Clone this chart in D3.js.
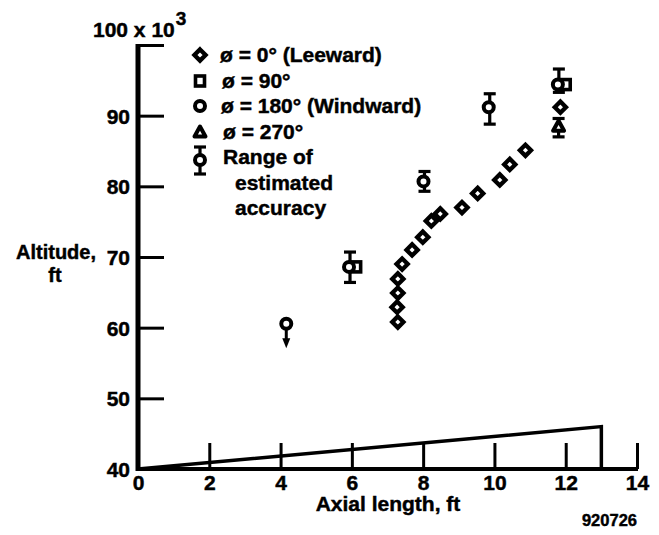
<!DOCTYPE html>
<html>
<head>
<meta charset="utf-8">
<script src="https://cdn.jsdelivr.net/npm/d3@7"></script>
<style>
  html, body { margin: 0; padding: 0; background: #fff; }
  svg text { font-family: "Liberation Sans", Arial, Helvetica, sans-serif; font-weight: bold; fill: #000; stroke: #000; stroke-width: 0.45px; }
</style>
</head>
<body>
<svg id="chart" width="659" height="535"></svg>
<script>
// Axis ticks (the 100 level is labelled by the "100 x 10^3" title)
const xTicks = [0, 2, 4, 6, 8, 10, 12, 14];
const yTicks = [40, 50, 60, 70, 80, 90, 100];
const yTickLabels = [40, 50, 60, 70, 80, 90];

// Leeward (phi = 0 deg) transition points: axial length (ft), altitude (thousands of ft)
const leewardX = [7.29, 7.27, 7.29, 7.29, 7.41, 7.69, 7.99, 8.23, 8.48, 9.09, 9.53, 10.15, 10.43, 10.87, 11.85];
const leewardY = [60.8, 62.9, 64.9, 66.9, 69.0, 71.0, 72.8, 75.1, 76.1, 77.0, 79.0, 80.9, 83.1, 85.1, 91.2];

// phi = 90 deg
const side90X = [6.12, 12.0];
const side90Y = [68.6, 94.4];

// Windward (phi = 180 deg) with estimated accuracy range
const windwardX = [4.16, 5.92, 8.01, 9.84, 11.78];
const windwardY = [60.55, 68.6, 80.7, 91.2, 94.4];
const windwardLo = [null, 66.4, 79.3, 88.8, 93.3];
const windwardHi = [null, 70.7, 82.1, 93.1, 96.6];
// first windward point is an upper bound (arrow down to this altitude)
const windwardArrowTo = 57.1;

// phi = 270 deg
const side270X = [11.8];
const side270Y = [88.5];
const side270Lo = [87.0];
const side270Hi = [89.6];

// Cone body profile drawn along the axial axis
const coneX = [0, 13, 13];
const coneY = [40, 46.0, 40];

const svg = d3.select("#chart");
const x = d3.scaleLinear().domain([0, 14]).range([138, 637]);
const y = d3.scaleLinear().domain([40, 100]).range([469, 45]);

// ---- axes ----
// y tick marks point into the plot
const yTickG = svg.append("g").attr("transform", `translate(${x(0)},0)`)
  .call(d3.axisRight(y).tickValues(yTicks.filter(v => v > 40)).tickSize(26).tickFormat(""));
yTickG.select(".domain").remove();
yTickG.selectAll("line").attr("stroke", "#000").attr("stroke-width", 3);

const yLabG = svg.append("g").attr("transform", `translate(${x(0) - 8},0)`)
  .call(d3.axisLeft(y).tickValues(yTickLabels).tickSize(0).tickPadding(0));
yLabG.select(".domain").remove();
yLabG.selectAll("text").attr("font-size", 21).attr("font-family", null).attr("dy", "0.36em");

// x tick marks point upward
const xTickG = svg.append("g").attr("transform", `translate(0,${y(40)})`)
  .call(d3.axisTop(x).tickValues(xTicks.filter(v => v > 0)).tickSize(26).tickFormat(""));
xTickG.select(".domain").remove();
xTickG.selectAll("line").attr("stroke", "#000").attr("stroke-width", 3);

const xLabG = svg.append("g").attr("transform", `translate(0,${y(40)})`)
  .call(d3.axisBottom(x).tickValues(xTicks).tickSize(0).tickPadding(0));
xLabG.select(".domain").remove();
xLabG.selectAll("text").attr("font-size", 21).attr("font-family", null).attr("dy", "0.98em");

// axis lines
svg.append("line").attr("x1", x(0)).attr("x2", x(0)).attr("y1", y(100) - 1).attr("y2", y(40) + 2)
  .attr("stroke", "#000").attr("stroke-width", 5);
svg.append("line").attr("x1", x(0)).attr("x2", x(14) + 1).attr("y1", y(40)).attr("y2", y(40))
  .attr("stroke", "#000").attr("stroke-width", 4);

// cone profile
svg.append("path")
  .attr("d", d3.line().x((d, i) => x(coneX[i])).y((d, i) => y(coneY[i]))(coneX))
  .attr("fill", "none").attr("stroke", "#000").attr("stroke-width", 3.5).attr("stroke-linejoin", "miter");

// ---- marker helpers ----
function diamond(g, cx, cy) {
  const r = 5.6;
  g.append("path").attr("d", `M${cx},${cy - r}L${cx + r},${cy}L${cx},${cy + r}L${cx - r},${cy}Z`)
    .attr("fill", "#fff").attr("stroke", "#000").attr("stroke-width", 4.3);
}
function square(g, cx, cy) {
  g.append("rect").attr("x", cx - 4.5).attr("y", cy - 5).attr("width", 9).attr("height", 10)
    .attr("fill", "#fff").attr("stroke", "#000").attr("stroke-width", 3.6);
}
function circle(g, cx, cy) {
  g.append("circle").attr("cx", cx).attr("cy", cy).attr("r", 5)
    .attr("fill", "#fff").attr("stroke", "#000").attr("stroke-width", 4);
}
function triangle(g, cx, cy) {
  g.append("path").attr("d", `M${cx},${cy - 5.5}L${cx + 5.5},${cy + 4.5}L${cx - 5.5},${cy + 4.5}Z`)
    .attr("fill", "#fff").attr("stroke", "#000").attr("stroke-width", 4).attr("stroke-linejoin", "round");
}
function errorBar(g, cx, y1, y2) {
  g.append("line").attr("x1", cx).attr("x2", cx).attr("y1", y1).attr("y2", y2)
    .attr("stroke", "#000").attr("stroke-width", 3.2);
  [y1, y2].forEach(v => g.append("line").attr("x1", cx - 6).attr("x2", cx + 6).attr("y1", v).attr("y2", v)
    .attr("stroke", "#000").attr("stroke-width", 3.2));
}

const marks = svg.append("g");

// error bars first so markers sit on top
windwardX.forEach((v, i) => {
  if (windwardLo[i] != null) errorBar(marks, x(v) + 1, y(windwardHi[i]), y(windwardLo[i]));
});
side270X.forEach((v, i) => errorBar(marks, x(v), y(side270Hi[i]), y(side270Lo[i])));

// downward arrow on the first windward point
{
  const ax = x(windwardX[0]), ay0 = y(windwardY[0]) + 5, ay1 = y(windwardArrowTo);
  marks.append("line").attr("x1", ax).attr("x2", ax).attr("y1", ay0).attr("y2", ay1 - 6)
    .attr("stroke", "#000").attr("stroke-width", 3);
  marks.append("path").attr("d", `M${ax - 4},${ay1 - 10}L${ax + 4},${ay1 - 10}L${ax},${ay1}Z`).attr("fill", "#000");
}

leewardX.forEach((v, i) => diamond(marks, x(v), y(leewardY[i])));
side90X.forEach((v, i) => square(marks, x(v), y(side90Y[i])));
windwardX.forEach((v, i) => circle(marks, x(v), y(windwardY[i])));
side270X.forEach((v, i) => triangle(marks, x(v), y(side270Y[i])));

// ---- legend ----
const legend = svg.append("g");
const legendItems = [
  { sym: diamond, label: "ø = 0° (Leeward)", cy: 55, tx: 220 },
  { sym: square, label: "ø = 90°", cy: 81, tx: 222 },
  { sym: circle, label: "ø = 180° (Windward)", cy: 106, tx: 221 },
  { sym: triangle, label: "ø = 270°", cy: 132, tx: 223 }
];
legendItems.forEach(d => {
  d.sym(legend, 200, d.cy);
  legend.append("text").attr("x", d.tx).attr("y", d.cy + 7).attr("font-size", 21).text(d.label);
});
errorBar(legend, 200, 147, 174);
circle(legend, 200, 160);
legend.append("text").attr("x", 223).attr("y", 164).attr("font-size", 21).text("Range of");
legend.append("text").attr("x", 235).attr("y", 190).attr("font-size", 21).text("estimated");
legend.append("text").attr("x", 235).attr("y", 215).attr("font-size", 21).text("accuracy");

// ---- titles ----
const yt = svg.append("text").attr("x", 93).attr("y", 37).attr("font-size", 21);
yt.append("tspan").text("100 x 10");
yt.append("tspan").attr("dx", 1).attr("dy", -12).attr("font-size", 19).text("3");

svg.append("text").attr("x", 56).attr("y", 259).attr("text-anchor", "middle").attr("font-size", 20).text("Altitude,");
svg.append("text").attr("x", 55).attr("y", 282).attr("text-anchor", "middle").attr("font-size", 20).text("ft");

svg.append("text").attr("x", 388).attr("y", 511).attr("text-anchor", "middle").attr("font-size", 21).text("Axial length, ft");

svg.append("text").attr("x", 637).attr("y", 526).attr("text-anchor", "end").attr("font-size", 16.5).text("920726");
</script>
</body>
</html>
